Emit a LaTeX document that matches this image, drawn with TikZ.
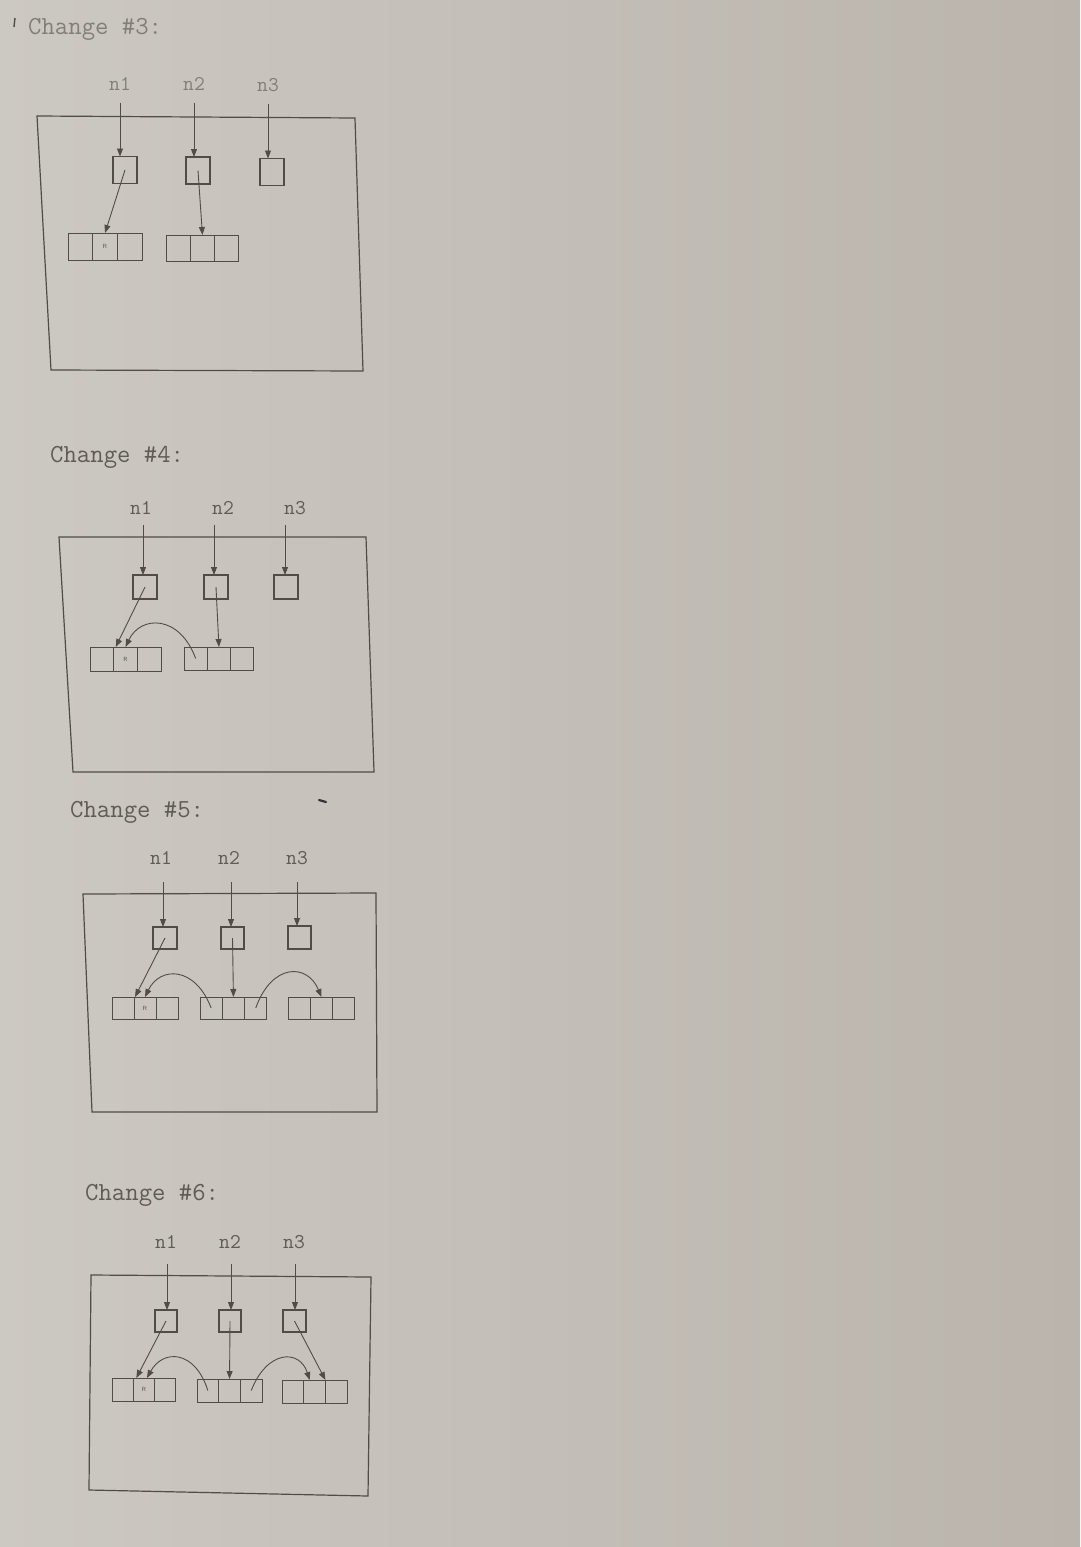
\documentclass[tikz,border=0pt]{standalone}
\usepackage{fontspec}
\usetikzlibrary{arrows.meta}
\definecolor{paperL}{RGB}{204,200,194}
\definecolor{paperR}{RGB}{186,180,172}
\definecolor{ink}{RGB}{80,76,72}
\definecolor{txt}{RGB}{95,92,88}
\definecolor{txtlight}{RGB}{130,127,123}
\newcommand\mkarr[6]{%
  \node[arrcell,minimum width=#4pt,minimum height=#5pt,anchor=west] (#1-1) at (#2,#3) {};
  \node[arrcell,minimum width=#4pt,minimum height=#5pt,anchor=west] (#1-2) at (#1-1.east) {#6};
  \node[arrcell,minimum width=#4pt,minimum height=#5pt,anchor=west] (#1-3) at (#1-2.east) {};
}
\begin{document}
\begin{tikzpicture}[x=1pt,y=-1pt,
  outerframe/.style={draw=ink,line width=1.2pt},
  ptr/.style={draw=ink,line width=0.9pt,-{Triangle[length=8pt,width=6pt]}},
  cellbox/.style={draw=ink,line width=1.1pt,inner sep=0pt,outer sep=0pt},
  arrcell/.style={draw=ink,line width=1pt,inner sep=0pt,outer sep=0pt,font=\fontsize{6}{6}\selectfont\sffamily,text=ink},
  ttl/.style={font=\fontsize{26}{28}\selectfont\ttfamily,text=txt,anchor=west,inner sep=0pt},
  lbl/.style={font=\fontsize{21}{23}\selectfont\ttfamily,text=txt,inner sep=0pt},
]
\fill[left color=paperL,right color=paperR] (0,0) rectangle (1080,1547);
\useasboundingbox (0,0) rectangle (1080,1547);
% stray marks
\draw[ink,line width=1.4pt] (15,18) -- (14,27);
\draw[black!80,line width=2.2pt,line cap=round] (319,800) -- (326,802);

% ---------------- Change #3 ----------------
\node[ttl,text=txtlight] (t3) at (28,29) {Change \#3:};
\node[lbl,text=txtlight] (p3n1) at (120,84) {n1};
\node[lbl,text=txtlight] (p3n2) at (194,84) {n2};
\node[lbl,text=txtlight] (p3n3) at (268,85) {n3};
\draw[outerframe] (37,116) -- (355,118) -- (363,371) -- (51,370) -- cycle;
\node[cellbox,minimum width=24pt,minimum height=27pt] (p3b1) at (125,170) {};
\node[cellbox,minimum width=24pt,minimum height=27pt] (p3b2) at (198,170.5) {};
\node[cellbox,minimum width=24pt,minimum height=27pt] (p3b3) at (272,172) {};
\draw[ptr,shorten <=12pt] (p3n1.south) -- (p3n1.south |- p3b1.north);
\draw[ptr,shorten <=12pt] (p3n2.south) -- (p3n2.south |- p3b2.north);
\draw[ptr,shorten <=12pt] (p3n3.south) -- (p3n3.south |- p3b3.north);
\mkarr{p3a1}{68}{246.5}{24.7}{27}{R}
\mkarr{p3a2}{166}{248}{24.3}{26}{}
\draw[ptr] (p3b1.center) -- (p3a1-2.north);
\draw[ptr] (p3b2.center) -- (p3a2-2.north);

% ---------------- Change #4 ----------------
\node[ttl] (t4) at (50,457) {Change \#4:};
\node[lbl] (p4n1) at (141,508) {n1};
\node[lbl] (p4n2) at (223,508) {n2};
\node[lbl] (p4n3) at (295,508) {n3};
\draw[outerframe] (59,537) -- (366,537) -- (374,772) -- (73,772) -- cycle;
\node[cellbox,minimum width=24pt,minimum height=24pt] (p4b1) at (145,587) {};
\node[cellbox,minimum width=24pt,minimum height=24pt] (p4b2) at (216,587) {};
\node[cellbox,minimum width=24pt,minimum height=24pt] (p4b3) at (286,587) {};
\draw[ptr,shorten <=10pt] ([xshift=2pt]p4n1.south) -- ([xshift=2pt]p4n1.south |- p4b1.north);
\draw[ptr,shorten <=10pt] ([xshift=-9pt]p4n2.south) -- ([xshift=-9pt]p4n2.south |- p4b2.north);
\draw[ptr,shorten <=10pt] ([xshift=-10pt]p4n3.south) -- ([xshift=-10pt]p4n3.south |- p4b3.north);
\mkarr{p4a1}{90}{659}{23.7}{24}{R}
\mkarr{p4a2}{184}{658.5}{23.3}{23}{}
\draw[ptr] (p4b1.center) -- ([xshift=2pt]p4a1-2.north west);
\draw[ptr] (p4b2.center) -- (p4a2-2.north);
\draw[ptr] (p4a2-1.center) .. controls +(-16,-44) and +(15,-32) .. (p4a1-2.north);

% ---------------- Change #5 ----------------
\node[ttl] (t5) at (70,812) {Change \#5:};
\node[lbl] (p5n1) at (161,858) {n1};
\node[lbl] (p5n2) at (229,858) {n2};
\node[lbl] (p5n3) at (297,858) {n3};
\draw[outerframe] (83,894) -- (376,893) -- (377,1112) -- (92,1112) -- cycle;
\node[cellbox,minimum width=24pt,minimum height=22pt] (p5b1) at (165,938) {};
\node[cellbox,minimum width=23pt,minimum height=22pt] (p5b2) at (232.5,938) {};
\node[cellbox,minimum width=23pt,minimum height=23pt] (p5b3) at (299.5,937.5) {};
\draw[ptr,shorten <=17pt] ([xshift=2pt]p5n1.south) -- ([xshift=2pt]p5n1.south |- p5b1.north);
\draw[ptr,shorten <=17pt] ([xshift=2pt]p5n2.south) -- ([xshift=2pt]p5n2.south |- p5b2.north);
\draw[ptr,shorten <=17pt] (p5n3.south) -- (p5n3.south |- p5b3.north);
\mkarr{p5a1}{112}{1008}{22}{22}{R}
\mkarr{p5a2}{200}{1008}{22.3}{22}{}
\mkarr{p5a3}{288}{1008}{22.3}{22}{}
\draw[ptr] (p5b1.center) -- ([xshift=1pt]p5a1-2.north west);
\draw[ptr] (p5b2.center) -- (p5a2-2.north);
\draw[ptr] (p5a2-1.center) .. controls +(-16,-42) and +(15,-31) .. (p5a1-2.north);
\draw[ptr] (p5a2-3.center) .. controls +(16,-45) and +(-14,-34) .. (p5a3-2.north);

% ---------------- Change #6 ----------------
\node[ttl] (t6) at (85,1195) {Change \#6:};
\node[lbl] (p6n1) at (166,1242) {n1};
\node[lbl] (p6n2) at (230,1242) {n2};
\node[lbl] (p6n3) at (294,1242) {n3};
\draw[outerframe] (91,1275) -- (371,1277) -- (368,1496) -- (89,1490) -- cycle;
\node[cellbox,minimum width=22pt,minimum height=22pt] (p6b1) at (166,1321) {};
\node[cellbox,minimum width=22pt,minimum height=22pt] (p6b2) at (230,1321) {};
\node[cellbox,minimum width=23pt,minimum height=22pt] (p6b3) at (294.5,1321) {};
\draw[ptr,shorten <=15pt] ([xshift=1pt]p6n1.south) -- ([xshift=1pt]p6n1.south |- p6b1.north);
\draw[ptr,shorten <=15pt] ([xshift=1pt]p6n2.south) -- ([xshift=1pt]p6n2.south |- p6b2.north);
\draw[ptr,shorten <=15pt] ([xshift=1pt]p6n3.south) -- ([xshift=1pt]p6n3.south |- p6b3.north);
\mkarr{p6a1}{112}{1389.5}{21.3}{23}{R}
\mkarr{p6a2}{197}{1390.5}{21.7}{23}{}
\mkarr{p6a3}{282}{1391.5}{21.7}{23}{}
\draw[ptr] (p6b1.center) -- ([xshift=3pt]p6a1-2.north west);
\draw[ptr] (p6b2.center) -- (p6a2-2.north);
\draw[ptr] (p6b3.center) -- (p6a3-2.north east);
\draw[ptr] (p6a2-1.center) .. controls +(-13,-41) and +(16,-29) .. ([xshift=3pt]p6a1-2.north);
\draw[ptr] (p6a2-3.center) .. controls +(16,-41) and +(-10,-31) .. ([xshift=6pt]p6a3-2.north west);
\end{tikzpicture}
\end{document}
